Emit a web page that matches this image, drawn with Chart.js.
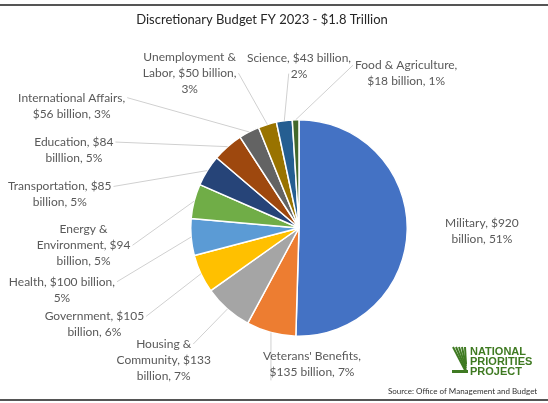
<!DOCTYPE html>
<html>
<head>
<meta charset="utf-8">
<script src="https://cdn.jsdelivr.net/npm/chart.js@4/dist/chart.umd.min.js"></script>
<style>
  html, body { margin: 0; padding: 0; background: #fff; }
</style>
</head>
<body>
<canvas id="chart" width="548" height="403"></canvas>
<script>
'use strict';
// data
const categories = ['Military', "Veterans' Benefits", 'Housing & Community', 'Government', 'Health',
  'Energy & Environment', 'Transportation', 'Education', 'International Affairs',
  'Unemployment & Labor', 'Science', 'Food & Agriculture'];
const billions = [920, 135, 133, 105, 100, 94, 85, 84, 56, 50, 43, 18];
const labelText = [
  ['Military, $920', 'billion, 51%'],
  ["Veterans' Benefits,", '$135 billion, 7%'],
  ['Housing &', 'Community, $133', 'billion, 7%'],
  ['Government, $105', 'billion, 6%'],
  ['Health, $100 billion,', '5%'],
  ['Energy &', 'Environment, $94', 'billion, 5%'],
  ['Transportation, $85', 'billion, 5%'],
  ['Education, $84', 'billlion, 5%'],
  ['International Affairs,', '$56 billion, 3%'],
  ['Unemployment &', 'Labor, $50 billion,', '3%'],
  ['Science, $43 billion,', '2%'],
  ['Food & Agriculture,', '$18 billion, 1%']
];
const titleText = 'Discretionary Budget FY 2023 - $1.8 Trillion';
const sourceText = 'Source: Office of Management and Budget';

// styles / layout
const colors = ['#4472C4', '#ED7D31', '#A5A5A5', '#FFC000', '#5B9BD5', '#70AD47',
  '#264478', '#9E480E', '#636363', '#997300', '#255E91', '#43682B'];
// label centres, in units of the pie radius, from the pie centre
const labelPos = [[1.69, 0.03], [0.12, 1.26], [-1.25, 1.22], [-1.89, 0.89], [-2.19, 0.57],
  [-1.99, 0.16], [-2.21, -0.31], [-2.08, -0.72], [-2.10, -1.13], [-1.01, -1.43],
  [0, -1.50], [0.99, -1.43]];
const showLeader = [false, true, true, true, true, true, true, true, true, true, true, true];
const FONT = 'Lato, "Open Sans", sans-serif';
const lineH = 16;

const overlay = {
  id: 'overlay',
  afterDraw(chart) {
    const ctx = chart.ctx;
    const arcs = chart.getDatasetMeta(0).data;
    ctx.save();
    // frame lines
    ctx.fillStyle = '#555';
    ctx.fillRect(0, 4, 548, 2);
    ctx.fillRect(0, 399, 548, 2);

    // title
    ctx.fillStyle = '#262626';
    ctx.font = '13px ' + FONT;
    ctx.textAlign = 'center';
    ctx.textBaseline = 'middle';
    ctx.fillText(titleText, 262, 20);

    // data labels with leader lines
    ctx.font = '12px ' + FONT;
    for (let i = 0; i < arcs.length; i++) {
      const a = arcs[i];
      const r = a.outerRadius;
      const cx = a.x + labelPos[i][0] * r;
      const cy = a.y + labelPos[i][1] * r;
      const lines = labelText[i];
      const top = cy - lines.length * lineH / 2;
      const mid = (a.startAngle + a.endAngle) / 2;
      const tx = a.x + Math.cos(mid) * r;
      const ty = a.y + Math.sin(mid) * r;
      if (showLeader[i]) {
        // pick the closest line end as anchor
        let best = null;
        let bestD = Infinity;
        for (let j = 0; j < lines.length; j++) {
          const w = ctx.measureText(lines[j]).width;
          const ly = top + j * lineH + lineH / 2;
          let lx;
          if (tx > cx + w / 2) lx = cx + w / 2 + 2;
          else if (tx < cx - w / 2) lx = cx - w / 2 - 2;
          else lx = tx;
          const d = Math.hypot(tx - lx, ty - ly);
          if (d < bestD) { bestD = d; best = [lx, ly]; }
        }
        if (Math.abs(tx - best[0]) < 1) {
          best[1] = ty < cy ? top + lines.length * lineH : top;
        }
        ctx.strokeStyle = '#d0d0d0';
        ctx.lineWidth = 1;
        ctx.beginPath();
        ctx.moveTo(best[0], best[1]);
        ctx.lineTo(tx, ty);
        ctx.stroke();
      }
      ctx.fillStyle = '#595959';
      for (let j = 0; j < lines.length; j++) {
        ctx.fillText(lines[j], cx, top + j * lineH + lineH / 2);
      }
    }

    // logo
    ctx.strokeStyle = '#3f7a22';
    ctx.lineWidth = 2;
    for (let k = 0; k < 5; k++) {
      ctx.beginPath();
      ctx.moveTo(453 + k * 3, 347);
      ctx.lineTo(466, 372 - k * 2);
      ctx.stroke();
    }
    ctx.fillStyle = '#3f7a22';
    ctx.fillRect(452, 370, 16, 3);
    ctx.font = 'bold 11px "Liberation Sans", sans-serif';
    ctx.textAlign = 'left';
    ctx.fillText('NATIONAL', 470, 352);
    ctx.fillText('PRIORITIES', 470, 362);
    ctx.fillText('PROJECT', 470, 372);

    // source
    ctx.fillStyle = '#333';
    ctx.font = '8px ' + FONT;
    ctx.fillText(sourceText, 388, 391);
    ctx.restore();
  }
};

new Chart(document.getElementById('chart'), {
  type: 'pie',
  data: {
    labels: categories,
    datasets: [{
      data: billions,
      backgroundColor: colors,
      borderColor: '#fff',
      borderWidth: 1.5
    }]
  },
  options: {
    responsive: false,
    animation: false,
    layout: { padding: { left: 190, right: 140, top: 119, bottom: 66 } },
    plugins: {
      legend: { display: false },
      title: { display: false },
      tooltip: { enabled: false }
    }
  },
  plugins: [overlay]
});
</script>
</body>
</html>
